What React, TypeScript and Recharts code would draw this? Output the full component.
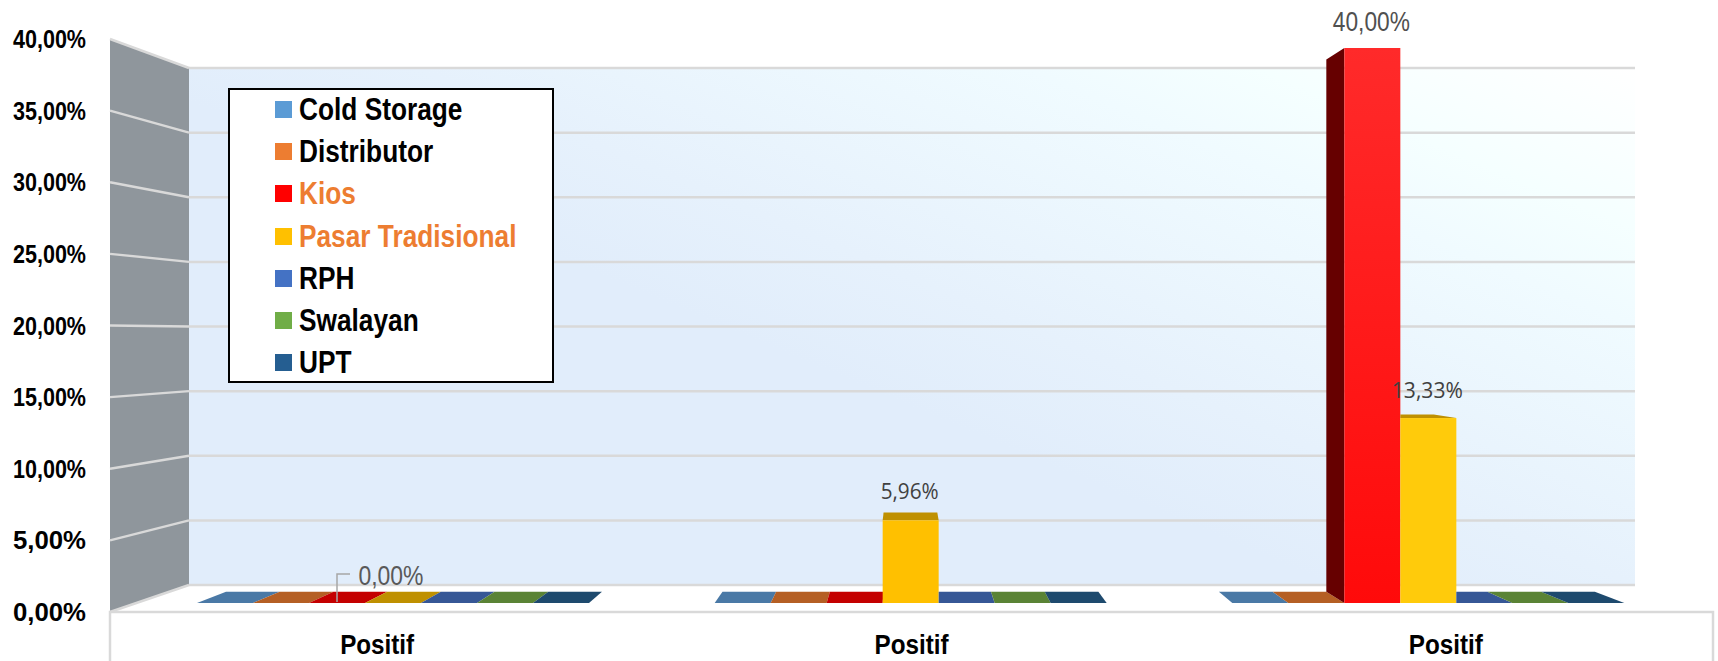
import { BarChart, Bar, XAxis, YAxis, Legend, LabelList, Customized } from "recharts"

const categories = ["Positif", "Positif", "Positif"]
const coldStorage = [0, 0, 0]
const distributor = [0, 0, 0]
const kios = [0, 0, 40]
const pasarTradisional = [0, 5.96, 13.33]
const rph = [0, 0, 0]
const swalayan = [0, 0, 0]
const upt = [0, 0, 0]
const yTicks = [0, 5, 10, 15, 20, 25, 30, 35, 40]

const seriesNames = ["Cold Storage", "Distributor", "Kios", "Pasar Tradisional", "RPH", "Swalayan", "UPT"]
const seriesValues = [coldStorage, distributor, kios, pasarTradisional, rph, swalayan, upt]
const fills = ["#5b9bd5", "#ed7d31", "#ff0000", "#ffc000", "#4472c4", "#70ad47", "#255e91"]
const capFills = ["#4a79a6", "#b55f24", "#c40000", "#bf9000", "#365796", "#5a8335", "#1e4a6e"]
const sideFills = ["#41719c", "#a0521d", "#660000", "#bf9000", "#2f528f", "#507e32", "#1a4060"]
const legendTextColors = ["#000", "#000", "#ed7d31", "#ed7d31", "#000", "#000", "#000"]

const data = categories.map((name, i) => {
  const row: any = { name }
  seriesNames.forEach((s, j) => (row[s] = seriesValues[j][i]))
  return row
})

const sans = "'Liberation Sans', Arial, sans-serif"

// perspective: where a point at the front of a bar ends up at its back
const VP_X = 905
const VP_Y = 331
const DEPTH = 0.041
const backX = (x: number) => x + DEPTH * (VP_X - x)
const backY = (y: number) => y + DEPTH * (VP_Y - y)

const pts = (list: number[][]) => list.map((p) => p.join(",")).join(" ")

// walls, floor and grid lines of the 3D box
function Box() {
  const wall = { left: 110, right: 189, end: 1635, frontEnd: 1713, top: 39, bottom: 612, backTop: 68, backBottom: 585 }
  const frontY = (t: number) => wall.bottom - (t / 40) * (wall.bottom - wall.top)
  const gridY = (t: number) => wall.backBottom - (t / 40) * (wall.backBottom - wall.backTop)
  const line = "#d9d9d9"
  return (
    <g>
      <defs>
        <linearGradient id="backWall" gradientUnits="userSpaceOnUse" x1={1332} y1={585} x2={1564} y2={37}>
          <stop offset="0" stopColor="#e1edfb" />
          <stop offset="0.2" stopColor="#e6f1fc" />
          <stop offset="0.6" stopColor="#f0fbff" />
          <stop offset="0.75" stopColor="#f5ffff" />
          <stop offset="1" stopColor="#ffffff" />
        </linearGradient>
        <linearGradient id="redFace" x1="0" y1="0" x2="0" y2="1">
          <stop offset="0" stopColor="#ff2a2a" />
          <stop offset="1" stopColor="#ff0a0a" />
        </linearGradient>
      </defs>
      <rect x={wall.right} y={wall.backTop} width={wall.end - wall.right} height={wall.backBottom - wall.backTop} fill="url(#backWall)" />
      <polygon
        points={pts([[wall.left, wall.top], [wall.right, wall.backTop], [wall.right, wall.backBottom], [wall.left, wall.bottom]])}
        fill="#8f969c"
      />
      {yTicks.map((t) => (
        <g key={t} stroke={line} strokeWidth={2.5}>
          <line x1={wall.left} y1={frontY(t)} x2={wall.right} y2={gridY(t)} />
          <line x1={wall.right} y1={gridY(t)} x2={wall.end} y2={gridY(t)} />
        </g>
      ))}
      <g stroke={line} strokeWidth={2.5} fill="none">
        <path d={`M${wall.left} 661V${wall.bottom}H${wall.frontEnd}V661`} />
      </g>
    </g>
  )
}

// one bar with its top and side faces, zero values give a flat tile on the floor
const makeBar = (s: number) => (props: any) => {
  const { x, y, width, height, index } = props
  const right = x + width
  const coverLeft = s > 0 && seriesValues[s - 1][index] > 0
  const capLeft = coverLeft ? Math.max(backX(x), x) : backX(x)
  const cap = pts([[x, y], [right, y], [backX(right), backY(y)], [capLeft, backY(y)]])
  if (height <= 0) return <polygon points={cap} fill={capFills[s]} />
  const bottom = y + height
  let face = fills[s]
  if (s === 2) face = "url(#redFace)"
  if (s === 3 && index === 2) face = "#ffcb0b"
  return (
    <g>
      {y > VP_Y && <polygon points={cap} fill={capFills[s]} />}
      {x > VP_X && !coverLeft && (
        <polygon
          points={pts([[x, y], [x, bottom], [backX(x), backY(bottom)], [backX(x), backY(y)]])}
          fill={sideFills[s]}
        />
      )}
      <rect x={x} y={y} width={width} height={height} fill={face} />
    </g>
  )
}

const fmt = (v: number) => v.toFixed(2).replace(".", ",") + "%"

// no narrow font here, so the text is squeezed to the width it has in the reference
const makeLabel = (s: number) => (props: any) => {
  const { x, y, width, value, index } = props
  const cx = x + width / 2
  if (s === 2 && index === 0) {
    return (
      <g>
        <path d={`M${cx} ${y - 1}V${y - 29}H${cx + 13}`} fill="none" stroke="#a6a6a6" strokeWidth={1.5} />
        <text x={cx + 54} y={y - 18} textAnchor="middle" fontFamily={sans} fontSize={28} textLength={65} lengthAdjust="spacingAndGlyphs" fill="#595959">
          {fmt(value)}
        </text>
      </g>
    )
  }
  if (s === 2 && value > 0) {
    return (
      <text x={cx - 1} y={y - 17} textAnchor="middle" fontFamily={sans} fontSize={28} textLength={77} lengthAdjust="spacingAndGlyphs" fill="#505050">
        {fmt(value)}
      </text>
    )
  }
  if (s === 3 && value > 0) {
    return (
      <text
        x={cx - 1}
        y={index === 1 ? y - 21 : y - 20}
        textAnchor="middle"
        fontFamily="'Open Sans', sans-serif"
        fontSize={21}
        textLength={index === 1 ? 58 : 71}
        lengthAdjust="spacingAndGlyphs"
        fill="#404040"
      >
        {fmt(value)}
      </text>
    )
  }
  return null
}

function YTick({ x, y, payload }: any) {
  return (
    <text x={x} y={y + 9} textAnchor="end" fontFamily={sans} fontWeight="bold" fontSize={26} textLength={73} lengthAdjust="spacingAndGlyphs" fill="#000">
      {fmt(payload.value)}
    </text>
  )
}

function XTick({ x, y, payload }: any) {
  return (
    <text x={x} y={y + 34} textAnchor="middle" fontFamily={sans} fontWeight="bold" fontSize={28} textLength={74} lengthAdjust="spacingAndGlyphs" fill="#000">
      {payload.value}
    </text>
  )
}

function LegendBox({ payload }: any) {
  const items = (payload || []).filter((p: any) => p.type !== "none")
  return (
    <div style={{ width: 326, height: 295, boxSizing: "border-box", background: "#fff", border: "2px solid #000", overflow: "hidden" }}>
      <div style={{ marginTop: -2 }}>
        {items.map((entry: any, i: number) => (
          <div key={entry.value} style={{ height: 42.3, display: "flex", alignItems: "center", paddingLeft: 45 }}>
            <span style={{ width: 17, height: 17, background: fills[i], marginRight: 7, flex: "none" }} />
            <span
              style={{
                fontFamily: sans,
                fontWeight: "bold",
                fontSize: 31,
                color: legendTextColors[i],
                lineHeight: 1,
                whiteSpace: "nowrap",
                transform: "scaleX(0.847)",
                transformOrigin: "left center",
              }}
            >
              {entry.value}
            </span>
          </div>
        ))}
      </div>
    </div>
  )
}

export default function App() {
  return (
    <div style={{ position: "absolute", left: 0, top: 0, width: 1718, height: 661, background: "#fff" }}>
      <BarChart
        width={1718}
        height={661}
        data={data}
        margin={{ top: 39, right: 5, bottom: 0, left: 0 }}
        barGap={0}
        barCategoryGap={63}
      >
        <XAxis xAxisId="front" dataKey="name" height={49} axisLine={false} tickLine={false} tick={<XTick />} />
        <XAxis xAxisId="bars" dataKey="name" hide height={0} padding={{ left: 24, right: 26 }} />
        <YAxis
          yAxisId="front"
          width={110}
          domain={[0, 40]}
          ticks={yTicks}
          interval={0}
          axisLine={false}
          tickLine={false}
          tickSize={0}
          tickMargin={24}
          tick={<YTick />}
        />
        <YAxis yAxisId="bars" hide width={0} domain={[0, 40]} padding={{ top: 9, bottom: 9 }} />
        <Customized component={Box} />
        <Legend
          layout="vertical"
          align="center"
          verticalAlign="middle"
          wrapperStyle={{ left: 228, top: 88, width: 326, height: 295 }}
          content={LegendBox}
        />
        {/* draws nothing, the front axis only shows its ticks with a series attached */}
        <Bar
          xAxisId="front"
          yAxisId="front"
          dataKey="Kios"
          legendType="none"
          shape={() => null}
          isAnimationActive={false}
        />
        {seriesNames.map((name, s) => (
          <Bar
            key={name}
            xAxisId="bars"
            yAxisId="bars"
            dataKey={name}
            name={name}
            fill={fills[s]}
            barSize={56}
            shape={makeBar(s)}
            isAnimationActive={false}
          >
            <LabelList dataKey={name} content={makeLabel(s)} />
          </Bar>
        ))}
      </BarChart>
    </div>
  )
}
